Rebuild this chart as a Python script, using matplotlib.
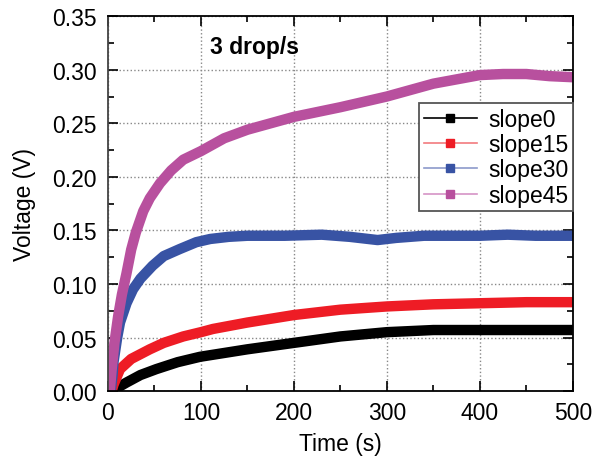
import numpy as np
import matplotlib.pyplot as plt
from matplotlib.lines import Line2D

plt.rcParams['font.family'] = ['Liberation Sans', 'DejaVu Sans']

# values (time in s, voltage in V)
t_slope0 = [6, 10, 20, 35, 52, 75, 99, 150, 200, 250, 300, 350, 400, 450, 500]
v_slope0 = [0.0, 0.003, 0.008, 0.015, 0.0205, 0.027, 0.032, 0.039, 0.045, 0.051, 0.055, 0.057, 0.057, 0.057, 0.057]

t_slope15 = [4, 6, 13, 25, 45, 60, 81, 100, 113, 150, 200, 250, 300, 350, 400, 450, 500]
v_slope15 = [0.0, 0.006, 0.0205, 0.030, 0.039, 0.045, 0.051, 0.055, 0.058, 0.064, 0.071, 0.076, 0.079, 0.081, 0.082, 0.083, 0.083]

t_slope30 = [3, 5, 6, 10, 13, 20, 27, 35, 48, 60, 77, 95, 110, 130, 150, 190, 230, 260, 290, 310, 340, 400, 430, 460, 500]
v_slope30 = [0.0, 0.015, 0.027, 0.050, 0.064, 0.082, 0.095, 0.105, 0.117, 0.126, 0.1325, 0.139, 0.142, 0.144, 0.145, 0.145, 0.146, 0.144, 0.141, 0.143, 0.145, 0.145, 0.146, 0.145, 0.145]

t_slope45 = [2, 4, 7, 11, 15, 20, 25, 30, 38, 45, 56, 68, 81, 100, 125, 150, 175, 200, 250, 300, 350, 400, 425, 450, 475, 500]
v_slope45 = [0.0, 0.02, 0.045, 0.07, 0.09, 0.11, 0.132, 0.148, 0.168, 0.180, 0.194, 0.206, 0.216, 0.224, 0.236, 0.244, 0.250, 0.256, 0.265, 0.275, 0.287, 0.295, 0.296, 0.296, 0.294, 0.293]

series = [
    ('slope0', t_slope0, v_slope0, '#000000', '#000000'),
    ('slope15', t_slope15, v_slope15, '#EE1C25', '#F27A7E'),
    ('slope30', t_slope30, v_slope30, '#3853A4', '#8C9ACB'),
    ('slope45', t_slope45, v_slope45, '#B8509E', '#D693C6'),
]

fig = plt.figure(figsize=(5.93, 4.64), dpi=100)
ax = fig.add_axes([0.182, 0.155, 0.784, 0.808])

handles = []
for name, t, v, c, lc in series:
    ax.plot(t, v, color=c, lw=7.5, solid_capstyle='butt', solid_joinstyle='round')
    handles.append(Line2D([], [], color=lc, lw=1.2, marker='s', markersize=6,
                          markerfacecolor=c, markeredgecolor=c))

ax.set_xlim(0, 500)
ax.set_ylim(0, 0.35)
ax.set_xticks(np.arange(0, 501, 100))
ax.set_xticks(np.arange(0, 501, 50), minor=True)
ax.set_yticks(np.arange(0, 0.351, 0.05))
ax.set_yticks(np.arange(0, 0.351, 0.025), minor=True)
ax.set_yticklabels([f'{y:.2f}' for y in np.arange(0, 0.351, 0.05)])
ax.tick_params(which='both', direction='in', top=True, right=True, labelsize=16.5, width=1.2)
ax.tick_params(which='major', length=7)
ax.tick_params(axis='y', which='major', pad=8)
ax.tick_params(axis='x', which='major', pad=7)
ax.tick_params(which='minor', length=4)
ax.grid(True, which='major', linestyle=':', color='#888888', lw=1)
for s in ax.spines.values():
    s.set_linewidth(1.3)
ax.spines['left'].set_color('#444444')

ax.set_xlabel('Time (s)', fontsize=16.5, labelpad=6)
ax.set_ylabel('Voltage (V)', fontsize=16.5, labelpad=12)
ax.text(0.219, 0.92, '3 drop/s', transform=ax.transAxes, fontsize=16.5,
        fontweight='bold', va='center')

leg = ax.legend(handles, [s[0] for s in series], loc='upper right',
                bbox_to_anchor=(1.0, 0.768), fontsize=16.5, handlelength=2.3,
                fancybox=False, framealpha=1, edgecolor='#555555',
                borderpad=0.2, labelspacing=0.1, handletextpad=0.5, borderaxespad=0.0)
leg.get_frame().set_linewidth(1.3)

fig.savefig('out.png', dpi=100)
